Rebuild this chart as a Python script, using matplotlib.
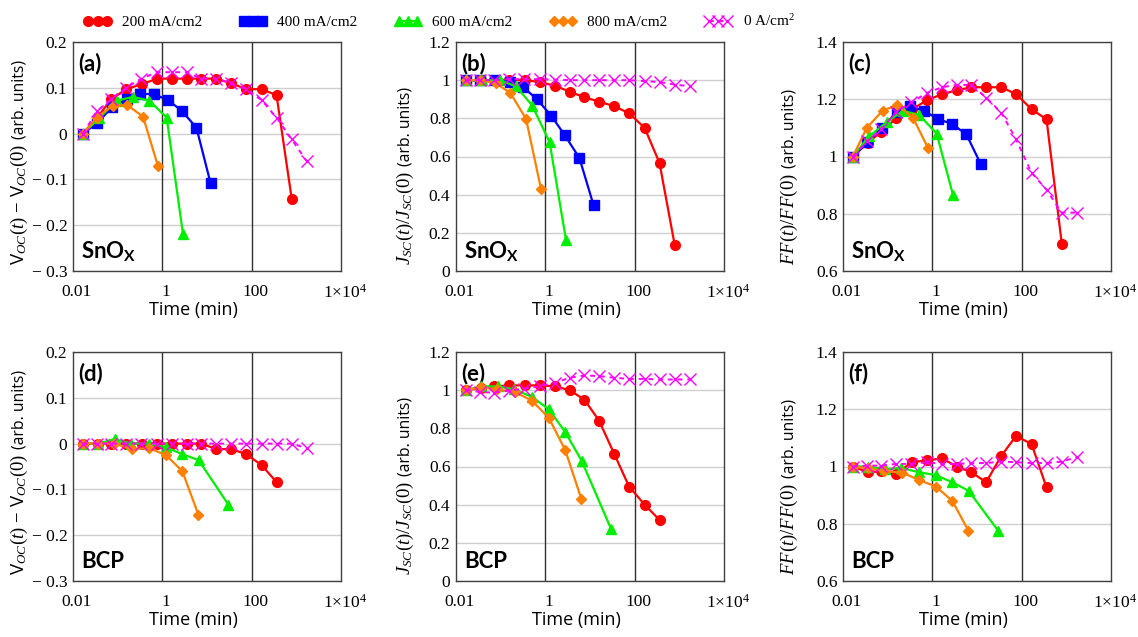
import matplotlib
matplotlib.use('Agg')
import matplotlib.pyplot as plt
from matplotlib.ticker import NullLocator
from matplotlib.transforms import ScaledTranslation

plt.rcParams['mathtext.fontset'] = 'custom'
plt.rcParams['mathtext.rm'] = 'Liberation Serif'
plt.rcParams['mathtext.it'] = 'Liberation Serif:italic'
plt.rcParams['mathtext.bf'] = 'Lato:bold'
plt.rcParams['font.serif'] = ['Liberation Serif', 'DejaVu Serif']
plt.rcParams['font.family'] = ['Liberation Serif', 'DejaVu Sans']

# ---------------- data ----------------
labels = ['200 mA/cm2', '400 mA/cm2', '600 mA/cm2', '800 mA/cm2', '0 A/cm$^2$']

# SnOx devices
t_snox_200 = [0.0167, 0.036, 0.072, 0.155, 0.35, 0.77, 1.67, 3.5, 7.5, 16, 35, 75, 167, 360, 790]
voc_snox_200 = [0, 0.037, 0.075, 0.097, 0.108, 0.12, 0.12, 0.12, 0.12, 0.12, 0.11, 0.097, 0.097, 0.084, -0.143]
jsc_snox_200 = [1.0, 1.0, 1.0, 1.0, 1.0, 0.99, 0.97, 0.94, 0.91, 0.888, 0.863, 0.827, 0.75, 0.566, 0.135]
ff_snox_200 = [1.0, 1.048, 1.087, 1.133, 1.165, 1.197, 1.218, 1.231, 1.242, 1.242, 1.242, 1.218, 1.165, 1.13, 0.696]

t_snox_400 = [0.0167, 0.035, 0.075, 0.158, 0.32, 0.65, 1.35, 2.7, 5.8, 12]
voc_snox_400 = [0, 0.023, 0.058, 0.075, 0.087, 0.086, 0.073, 0.05, 0.013, -0.108]
jsc_snox_400 = [1.0, 1.0, 1.0, 0.99, 0.963, 0.90, 0.814, 0.713, 0.592, 0.345]
ff_snox_400 = [1.0, 1.05, 1.10, 1.155, 1.175, 1.16, 1.13, 1.115, 1.077, 0.975]

t_snox_600 = [0.0167, 0.038, 0.095, 0.22, 0.51, 1.25, 2.9]
voc_snox_600 = [0, 0.033, 0.072, 0.08, 0.072, 0.035, -0.219]
jsc_snox_600 = [1.0, 1.0, 1.0, 0.968, 0.867, 0.674, 0.163]
ff_snox_600 = [1.0, 1.07, 1.12, 1.16, 1.145, 1.08, 0.866]

t_snox_800 = [0.0167, 0.034, 0.077, 0.165, 0.37, 0.8]
voc_snox_800 = [0, 0.035, 0.061, 0.062, 0.037, -0.071]
jsc_snox_800 = [1.0, 1.0, 0.985, 0.933, 0.797, 0.43]
ff_snox_800 = [1.0, 1.10, 1.16, 1.18, 1.135, 1.03]

t_snox_0 = [0.0167, 0.035, 0.072, 0.155, 0.34, 0.75, 1.65, 3.5, 7.5, 16, 35, 75, 167, 360, 780, 1700]
voc_snox_0 = [0, 0.05, 0.075, 0.1, 0.12, 0.134, 0.134, 0.134, 0.12, 0.12, 0.11, 0.097, 0.073, 0.035, -0.012, -0.06]
jsc_snox_0 = [1.0, 1.0, 1.0, 1.005, 1.005, 1.005, 1.003, 1.0, 1.0, 1.0, 1.0, 1.0, 0.995, 0.99, 0.977, 0.968]
ff_snox_0 = [1.0, 1.054, 1.095, 1.156, 1.189, 1.222, 1.242, 1.25, 1.25, 1.206, 1.153, 1.06, 0.943, 0.884, 0.804, 0.804]

# BCP devices
t_bcp_200 = [0.0167, 0.036, 0.072, 0.155, 0.35, 0.77, 1.67, 3.5, 7.5, 16, 35, 75, 167, 360]
voc_bcp_200 = [0, 0, 0, 0, 0, 0, 0, 0, 0, -0.012, -0.012, -0.023, -0.047, -0.084]
jsc_bcp_200 = [1.0, 1.01, 1.02, 1.025, 1.025, 1.025, 1.02, 1.0, 0.95, 0.84, 0.665, 0.495, 0.40, 0.32]
ff_bcp_200 = [1.0, 0.98, 0.983, 0.975, 1.015, 1.022, 1.028, 1.0, 0.98, 0.945, 1.037, 1.107, 1.078, 0.927]

t_bcp_600 = [0.0167, 0.037, 0.085, 0.2, 0.5, 1.2, 2.8, 6.5, 30]
voc_bcp_600 = [0, 0, 0.01, 0, 0, -0.008, -0.023, -0.036, -0.133]
jsc_bcp_600 = [1.0, 1.02, 1.02, 1.005, 0.965, 0.90, 0.78, 0.63, 0.27]
ff_bcp_600 = [1.0, 1.0, 0.99, 0.995, 0.98, 0.97, 0.945, 0.915, 0.775]

t_bcp_800 = [0.0167, 0.037, 0.083, 0.21, 0.5, 1.2, 2.8, 6.4]
voc_bcp_800 = [0, 0, 0, -0.012, -0.01, -0.025, -0.06, -0.155]
jsc_bcp_800 = [1.0, 1.015, 1.005, 0.99, 0.945, 0.855, 0.685, 0.43]
ff_bcp_800 = [1.0, 0.994, 0.983, 0.979, 0.953, 0.93, 0.88, 0.776]

t_bcp_0 = [0.0167, 0.035, 0.072, 0.155, 0.34, 0.75, 1.65, 3.5, 7.5, 16, 35, 75, 167, 360, 780, 1700]
voc_bcp_0 = [0, 0, 0, 0, 0, 0, 0, 0, 0, 0, 0, 0, 0, 0, 0, -0.01]
jsc_bcp_0 = [1.003, 0.99, 0.987, 0.998, 1.008, 1.02, 1.038, 1.065, 1.077, 1.074, 1.065, 1.059, 1.059, 1.056, 1.056, 1.056]
ff_bcp_0 = [1.0, 1.003, 1.003, 1.009, 1.009, 1.015, 1.009, 1.009, 1.012, 1.012, 1.017, 1.015, 1.012, 1.012, 1.017, 1.032]

xticks = [0.01, 1, 100, 1e4]
xticklabels = ['0.01', '1', '100', r'1$\times$10$^{4}$']
voc_ticks = [-0.3, -0.2, -0.1, 0, 0.1, 0.2]
voc_ticklabels = ['\u2212 0.3', '\u2212 0.2', '\u2212 0.1', '0', '0.1', '0.2']
jsc_ticks = [0, 0.2, 0.4, 0.6, 0.8, 1.0, 1.2]
jsc_ticklabels = ['0', '0.2', '0.4', '0.6', '0.8', '1', '1.2']
ff_ticks = [0.6, 0.8, 1.0, 1.2, 1.4]
ff_ticklabels = ['0.6', '0.8', '1', '1.2', '1.4']

# ---------------- styles ----------------
styles = {
    '200': dict(color='#ff0000', marker='o', ms=7, lw=1.6, ls='-'),
    '400': dict(color='#0000ff', marker='s', ms=7, lw=1.6, ls='-'),
    '600': dict(color='#00ee00', marker='^', ms=7.5, lw=1.6, ls='-'),
    '800': dict(color='#ff8000', marker='D', ms=5.5, lw=1.6, ls='-'),
    '0': dict(color='#ff00ff', marker='x', ms=8, mew=1.0, lw=1.4, ls=(0, (2.5, 2.5))),
}

SERIF = 'Liberation Serif'
SANS = ['Open Sans', 'DejaVu Sans']
BOLD = ['Lato', 'DejaVu Sans']

W, H = 1138, 637
fig = plt.figure(figsize=(W / 100, H / 100), dpi=100)
renderer = fig.canvas.get_renderer()

col_left = [73, 456, 843]
row_top = [42, 352]
aw, ah = 268, 229


def make_ax(col, row):
    l = col_left[col]
    t = row_top[row]
    return fig.add_axes([l / W, 1 - (t + ah) / H, aw / W, ah / H])


def ylabel2(ax, math, xb):
    t1 = ax.text(xb, 0.026, math, transform=ax.transAxes, rotation=90,
                 rotation_mode='anchor', ha='left', va='baseline',
                 fontsize=13.5, family=SANS)
    bb = t1.get_window_extent(renderer)
    y2 = ax.transAxes.inverted().transform((0, bb.y1 + 5))[1]
    ax.text(xb, y2, '(arb. units)', transform=ax.transAxes, rotation=90,
            rotation_mode='anchor', ha='left', va='baseline',
            fontsize=11.3, family=SANS)


def setup(ax, ylim, yticks, yticklabels, ylabel, ylabel_x, panel, layer):
    ax.set_xscale('log')
    ax.set_xlim(0.01, 1e4)
    ax.set_ylim(*ylim)
    ax.set_xticks(xticks)
    ax.set_xticklabels(xticklabels)
    ax.xaxis.set_minor_locator(NullLocator())
    ax.set_yticks(yticks)
    ax.set_yticklabels(yticklabels)
    ax.tick_params(axis='both', length=0, labelsize=12.5, labelfontfamily=SERIF)
    ax.tick_params(axis='x', pad=9)
    ax.tick_params(axis='y', pad=4)
    off = ScaledTranslation(3.5 / 100, 0, fig.dpi_scale_trans)
    for lab in ax.get_xticklabels():
        lab.set_transform(lab.get_transform() + off)
    for y in yticks:
        ax.axhline(y, color='#cfcfcf', lw=1.0, zorder=0)
    for x in (1, 100):
        ax.axvline(x, color='#303030', lw=1.0, zorder=1)
    for s in ax.spines.values():
        s.set_color('#404040')
        s.set_linewidth(1.0)
    ylabel2(ax, ylabel, ylabel_x)
    ax.text(0.448, -0.172, 'Time (min)', transform=ax.transAxes, ha='center', va='center',
            fontsize=13, family=SANS)
    ax.text(0.02, 0.955, panel, transform=ax.transAxes, ha='left', va='top',
            fontsize=16, fontweight='bold', family=BOLD)
    ax.text(0.03, 0.057, layer, transform=ax.transAxes, ha='left', va='baseline',
            fontsize=16, fontweight='bold', family=BOLD)


def plot_series(ax, t, y, key, label=None):
    st = dict(styles[key])
    ax.plot(t, y, label=label, zorder=3, **st)


voc_label = r'V$_{OC}(t)$ $-$ V$_{OC}(0)$'
jsc_label = r'$J_{SC}(t)/J_{SC}(0)$'
ff_label = r'$FF(t)/FF(0)$'

snox = r'SnO$_{\mathbf{X}}$'

# (a)
ax = make_ax(0, 0)
setup(ax, (-0.3, 0.2), voc_ticks, voc_ticklabels, voc_label, -0.183, '(a)', snox)
plot_series(ax, t_snox_200, voc_snox_200, '200', labels[0])
plot_series(ax, t_snox_400, voc_snox_400, '400', labels[1])
plot_series(ax, t_snox_600, voc_snox_600, '600', labels[2])
plot_series(ax, t_snox_800, voc_snox_800, '800', labels[3])
plot_series(ax, t_snox_0, voc_snox_0, '0', labels[4])
ax_a = ax

# (b)
ax = make_ax(1, 0)
setup(ax, (0, 1.2), jsc_ticks, jsc_ticklabels, jsc_label, -0.172, '(b)', snox)
plot_series(ax, t_snox_200, jsc_snox_200, '200')
plot_series(ax, t_snox_400, jsc_snox_400, '400')
plot_series(ax, t_snox_600, jsc_snox_600, '600')
plot_series(ax, t_snox_800, jsc_snox_800, '800')
plot_series(ax, t_snox_0, jsc_snox_0, '0')

# (c)
ax = make_ax(2, 0)
setup(ax, (0.6, 1.4), ff_ticks, ff_ticklabels, ff_label, -0.183, '(c)', snox)
plot_series(ax, t_snox_200, ff_snox_200, '200')
plot_series(ax, t_snox_400, ff_snox_400, '400')
plot_series(ax, t_snox_600, ff_snox_600, '600')
plot_series(ax, t_snox_800, ff_snox_800, '800')
plot_series(ax, t_snox_0, ff_snox_0, '0')

# (d)
ax = make_ax(0, 1)
setup(ax, (-0.3, 0.2), voc_ticks, voc_ticklabels, voc_label, -0.183, '(d)', 'BCP')
plot_series(ax, t_bcp_200, voc_bcp_200, '200')
plot_series(ax, t_bcp_600, voc_bcp_600, '600')
plot_series(ax, t_bcp_800, voc_bcp_800, '800')
plot_series(ax, t_bcp_0, voc_bcp_0, '0')

# (e)
ax = make_ax(1, 1)
setup(ax, (0, 1.2), jsc_ticks, jsc_ticklabels, jsc_label, -0.172, '(e)', 'BCP')
plot_series(ax, t_bcp_200, jsc_bcp_200, '200')
plot_series(ax, t_bcp_600, jsc_bcp_600, '600')
plot_series(ax, t_bcp_800, jsc_bcp_800, '800')
plot_series(ax, t_bcp_0, jsc_bcp_0, '0')

# (f)
ax = make_ax(2, 1)
setup(ax, (0.6, 1.4), ff_ticks, ff_ticklabels, ff_label, -0.183, '(f)', 'BCP')
plot_series(ax, t_bcp_200, ff_bcp_200, '200')
plot_series(ax, t_bcp_600, ff_bcp_600, '600')
plot_series(ax, t_bcp_800, ff_bcp_800, '800')
plot_series(ax, t_bcp_0, ff_bcp_0, '0')

handles, labs = ax_a.get_legend_handles_labels()
fig.legend(handles, labs, loc='center', bbox_to_anchor=(0.386, 0.967), ncol=5,
           frameon=False, numpoints=3, handlelength=1.8, handletextpad=0.7,
           columnspacing=2.4, prop={'family': 'Liberation Serif', 'size': 11})

fig.savefig('out.png', dpi=100)
